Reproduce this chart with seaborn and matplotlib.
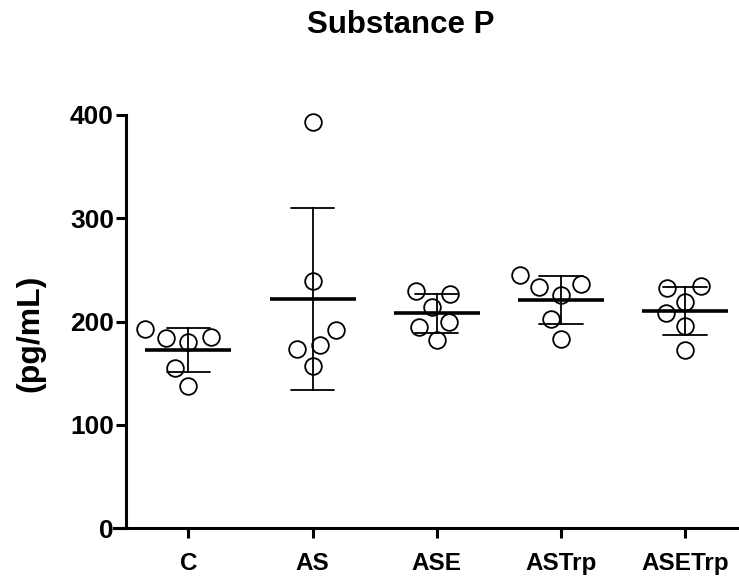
import numpy as np
import pandas as pd
import matplotlib
matplotlib.use("Agg")
import matplotlib.pyplot as plt
import seaborn as sns

# values (pg/mL)
groups = ["C", "AS", "ASE", "ASTrp", "ASETrp"]
c_vals = [193, 184, 180, 185, 155, 138]
as_vals = [393, 239, 192, 177, 173, 157]
ase_vals = [227, 230, 214, 200, 195, 182]
astrp_vals = [245, 233, 236, 226, 202, 183]
asetrp_vals = [234, 232, 219, 208, 196, 172]
y_ticks = [0, 100, 200, 300, 400]

all_vals = [c_vals, as_vals, ase_vals, astrp_vals, asetrp_vals]
df = pd.DataFrame({
    "group": np.repeat(groups, [len(v) for v in all_vals]),
    "value": sum(all_vals, []),
})

sns.set_style("ticks")
plt.rcParams["font.family"] = ["Liberation Sans", "DejaVu Sans"]
plt.rcParams["font.weight"] = "bold"
for k in ["text.color", "axes.labelcolor", "xtick.color", "ytick.color", "axes.edgecolor"]:
    plt.rcParams[k] = "black"

fig = plt.figure(figsize=(7.39, 5.76), dpi=100)
ax = fig.add_axes([114 / 739, 48 / 576, 625 / 739, 413 / 576])

# swarm layout a little wider than the drawn circles
sns.swarmplot(data=df, x="group", y="value", order=groups, ax=ax,
              size=14.5, color="white", linewidth=1.3)
swarms = list(ax.collections)

# mean line + SD error bars
sns.pointplot(data=df, x="group", y="value", order=groups, ax=ax,
              errorbar="sd", capsize=0.35, linestyle="none", marker="_",
              markersize=62, markeredgewidth=2.6, color="black",
              err_kws={"linewidth": 1.3, "zorder": 3}, zorder=4)

ax.set_xlim(-0.6, 4.435)
ax.set_ylim(0, 400)
ax.set_yticks(y_ticks)
ax.spines["left"].set_position(("data", -0.5))
ax.spines["top"].set_visible(False)
ax.spines["right"].set_visible(False)
for s in ["left", "bottom"]:
    ax.spines[s].set_linewidth(2.2)
ax.tick_params(axis="y", length=7, width=2.2, labelsize=19, pad=2)
ax.tick_params(axis="x", length=7, width=2.2, labelsize=17.5, pad=10)
ax.set_xlabel("")
ax.set_ylabel("")

# freeze the swarm positions, then redraw them as smaller hollow circles
fig.canvas.draw()
xy = np.vstack([np.asarray(c.get_offsets()) for c in swarms])
for c in swarms:
    c.remove()
ax.scatter(xy[:, 0], xy[:, 1], s=12 ** 2, facecolor="white",
           edgecolor="black", linewidth=1.3, zorder=2, clip_on=False)

fig.text(30 / 739, 1 - 333 / 576, "(pg/mL)", rotation=90, ha="center",
         va="center", fontsize=23, fontweight="bold")
fig.text(401 / 739, 1 - 33 / 576, "Substance P", ha="center",
         va="baseline", fontsize=22.5, fontweight="bold")

fig.savefig("out.png", dpi=100)
